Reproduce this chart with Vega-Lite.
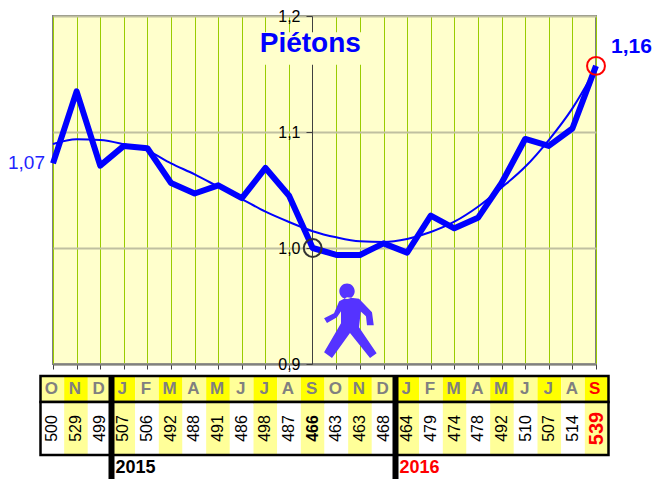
{
"$schema":"https://vega.github.io/schema/vega-lite/v6.json",
"padding":{"left":7,"top":7,"right":0,"bottom":0},
"background":"white",
"bounds":"flush",
"spacing":12,
"config":{"concat":{"spacing":0},"font":"Liberation Sans","axis":{"labelFont":"Liberation Sans"}},
"datasets":{"rows":[
{"i":0,"m":"O","n":500,"r":1.073,"t":1.0897},
{"i":1,"m":"N","n":529,"r":1.135,"t":1.0937},
{"i":2,"m":"D","n":499,"r":1.071,"t":1.0931},
{"i":3,"m":"J","n":507,"r":1.088,"t":1.0894},
{"i":4,"m":"F","n":506,"r":1.086,"t":1.0839},
{"i":5,"m":"M","n":492,"r":1.056,"t":1.073},
{"i":6,"m":"A","n":488,"r":1.047,"t":1.0635},
{"i":7,"m":"M","n":491,"r":1.054,"t":1.0528},
{"i":8,"m":"J","n":486,"r":1.043,"t":1.0422},
{"i":9,"m":"J","n":498,"r":1.069,"t":1.0313},
{"i":10,"m":"A","n":487,"r":1.045,"t":1.0224},
{"i":11,"m":"S","n":466,"r":1.000,"t":1.0145},
{"i":12,"m":"O","n":463,"r":0.994,"t":1.0092},
{"i":13,"m":"N","n":463,"r":0.994,"t":1.0058},
{"i":14,"m":"D","n":468,"r":1.004,"t":1.0052},
{"i":15,"m":"J","n":464,"r":0.996,"t":1.0078},
{"i":16,"m":"F","n":479,"r":1.028,"t":1.0138},
{"i":17,"m":"M","n":474,"r":1.017,"t":1.0227},
{"i":18,"m":"A","n":478,"r":1.026,"t":1.0356},
{"i":19,"m":"M","n":492,"r":1.056,"t":1.052},
{"i":20,"m":"J","n":510,"r":1.094,"t":1.07},
{"i":21,"m":"J","n":507,"r":1.088,"t":1.0931},
{"i":22,"m":"A","n":514,"r":1.103,"t":1.1204},
{"i":23,"m":"S","n":539,"r":1.157,"t":1.155}
],
"years":[{"i":2.5,"y":"2015"},{"i":14.5,"y":"2016"}]},
"vconcat":[
{
"width":543,"height":348,
"view":{"fill":"#FFFFCC","stroke":"#808080","strokeWidth":2},
"data":{"name":"rows"},
"encoding":{
"x":{"field":"i","type":"quantitative","title":null,
"scale":{"domain":[0,23],"nice":false,"zero":false},
"axis":{"values":[0,1,2,3,4,5,6,7,8,9,10,12,13,14,15,16,17,18,19,20,21,22,23],"labels":false,"grid":true,"gridColor":"#99CC00","gridWidth":1,"gridOpacity":1,"tickColor":"#404040","tickSize":5,"domainColor":"#808080","domainWidth":2}}
},
"layer":[
{"mark":{"type":"rect","fill":"#FFFFCC"},
"data":{"values":[{"x0":8.7,"x1":13.1,"y0":1.158,"y1":1.186}]},
"encoding":{
"x":{"field":"x0","type":"quantitative","title":null},
"x2":{"field":"x1"},
"y":{"field":"y0","type":"quantitative","title":null,
"scale":{"domain":[0.9,1.2],"nice":false,"zero":false},
"axis":{"values":[0.9,1.0,1.1,1.2],"offset":-259,"labelExpr":"replace(format(datum.value,'.1f'),'.',',')","labelFontSize":16,"labelColor":"#000000","labelPadding":6,"grid":true,"gridColor":"#C0C0A0","gridWidth":2,"gridOpacity":1,"tickColor":"#404040","tickSize":6,"domainColor":"#404040","domainWidth":1}},
"y2":{"field":"y1"}}},
{"mark":{"type":"line","color":"#0000FF","strokeWidth":2,"interpolate":"monotone"},"encoding":{"y":{"field":"t","type":"quantitative"}}},
{"mark":{"type":"line","color":"#0000FF","strokeWidth":6,"strokeJoin":"round"},"encoding":{"y":{"field":"r","type":"quantitative"}}},
{"transform":[{"filter":"datum.i==11"}],"mark":{"type":"point","shape":"circle","size":320,"color":"#333333","strokeWidth":2,"filled":false,"opacity":1},"encoding":{"y":{"field":"r","type":"quantitative"}}},
{"transform":[{"filter":"datum.i==23"}],"mark":{"type":"point","shape":"circle","size":320,"color":"#FF0000","strokeWidth":2,"filled":false,"opacity":1},"encoding":{"y":{"field":"r","type":"quantitative"}}},
{"transform":[{"filter":"datum.i==0"}],"mark":{"type":"text","text":"1,07","align":"right","dx":-8,"fontSize":19,"color":"#2222FF"},"encoding":{"y":{"field":"r","type":"quantitative"}}},
{"transform":[{"filter":"datum.i==23"}],"mark":{"type":"text","text":"1,16","align":"left","dx":15,"dy":-19,"fontSize":21,"fontWeight":"bold","color":"#0000FF"},"encoding":{"y":{"field":"r","type":"quantitative"}}},
{"data":{"values":[{"x":10.9,"y":1.176,"label":"Piétons"}]},"mark":{"type":"text","fontSize":28,"fontWeight":"bold","color":"#0000FF"},
"encoding":{"x":{"field":"x","type":"quantitative"},"y":{"field":"y","type":"quantitative"},"text":{"field":"label"}}},
{"data":{"values":[{"x":12.58,"y":0.936}]},
"mark":{"type":"point","filled":true,"opacity":1,"size":5184,"color":"#5533FF","strokeWidth":0,
"shape":"M-.083,-.694L.25,-.65L.611,-.278L.66,.083L.472,.083L.444,-.167L.3,-.3L.25,.139L.74,.861L.556,.99L0,.3L-.5,.99L-.72,.833L-.25,.028L-.25,-.306L-.361,-.139L-.639,.02L-.72,-.111L-.444,-.25L-.3,-.58ZM-.297,-.861A.214,.214 0 1,0 .131,-.861A.214,.214 0 1,0 -.297,-.861Z"},
"encoding":{"x":{"field":"x","type":"quantitative"},"y":{"field":"y","type":"quantitative"}}}
]
},
{
"bounds":"flush",
"spacing":0,
"vconcat":[
{
"width":543,"height":26,"view":{"stroke":null},
"encoding":{"x":{"field":"i","type":"quantitative","title":null,"axis":null,"scale":{"domain":[-0.5,23.5],"range":[-12.5,555.5],"nice":false,"zero":false}}},
"layer":[
{"data":{"name":"rows"},"mark":{"type":"rect","width":23.67},"encoding":{"fill":{"condition":{"test":"datum.i%2==1","value":"#FFFF00"},"value":"#FFFF99"}}},
{"data":{"name":"rows"},"transform":[{"filter":"datum.i<23"}],"mark":{"type":"text","fontSize":17,"fontWeight":"bold","color":"#808080","dx":-1},"encoding":{"text":{"field":"m"}}},
{"data":{"name":"rows"},"transform":[{"filter":"datum.i==23"}],"mark":{"type":"text","fontSize":17,"fontWeight":"bold","color":"#FF0000","dx":-2},"encoding":{"text":{"field":"m"}}},
{"data":{"values":[{"a":-0.5,"b":23.5}]},"mark":{"type":"rect","fill":null,"stroke":"#000000","strokeWidth":2.5},"encoding":{"x":{"field":"a","type":"quantitative"},"x2":{"field":"b"}}},
{"data":{"name":"years"},"mark":{"type":"rule","color":"#000000","strokeWidth":6},"encoding":{}}
]
},
{
"width":543,"height":53,"view":{"stroke":null},
"encoding":{"x":{"field":"i","type":"quantitative","title":null,"axis":null,"scale":{"domain":[-0.5,23.5],"range":[-12.5,555.5],"nice":false,"zero":false}}},
"layer":[
{"data":{"name":"rows"},"mark":{"type":"rect","width":23.67},"encoding":{"fill":{"condition":{"test":"datum.i%2==1","value":"#FFFF99"},"value":"#FFFFFF"}}},
{"data":{"name":"rows"},"transform":[{"filter":"datum.i!=11&&datum.i!=23"}],"mark":{"type":"text","angle":270,"fontSize":16,"color":"#000000"},"encoding":{"text":{"field":"n"}}},
{"data":{"name":"rows"},"transform":[{"filter":"datum.i==11"}],"mark":{"type":"text","angle":270,"fontSize":16,"fontWeight":"bold","color":"#000000"},"encoding":{"text":{"field":"n"}}},
{"data":{"name":"rows"},"transform":[{"filter":"datum.i==23"}],"mark":{"type":"text","angle":270,"fontSize":20,"fontWeight":"bold","color":"#FF0000"},"encoding":{"text":{"field":"n"}}},
{"data":{"values":[{"a":-0.5,"b":23.5}]},"mark":{"type":"rect","fill":null,"stroke":"#000000","strokeWidth":2.5},"encoding":{"x":{"field":"a","type":"quantitative"},"x2":{"field":"b"}}},
{"data":{"name":"years"},"mark":{"type":"rule","color":"#000000","strokeWidth":6},"encoding":{}}
]
},
{
"width":543,"height":24,"view":{"stroke":null},
"data":{"name":"years"},
"encoding":{"x":{"field":"i","type":"quantitative","title":null,"axis":null,"scale":{"domain":[-0.5,23.5],"range":[-12.5,555.5],"nice":false,"zero":false}}},
"layer":[
{"mark":{"type":"rule","color":"#000000","strokeWidth":6},"encoding":{}},
{"mark":{"type":"text","align":"left","dx":4,"dy":1,"fontSize":18,"fontWeight":"bold"},"encoding":{"text":{"field":"y"},"color":{"field":"y","type":"nominal","legend":null,"scale":{"domain":["2015","2016"],"range":["#000000","#FF0000"]}}}}
]
}
]
}
]
}
